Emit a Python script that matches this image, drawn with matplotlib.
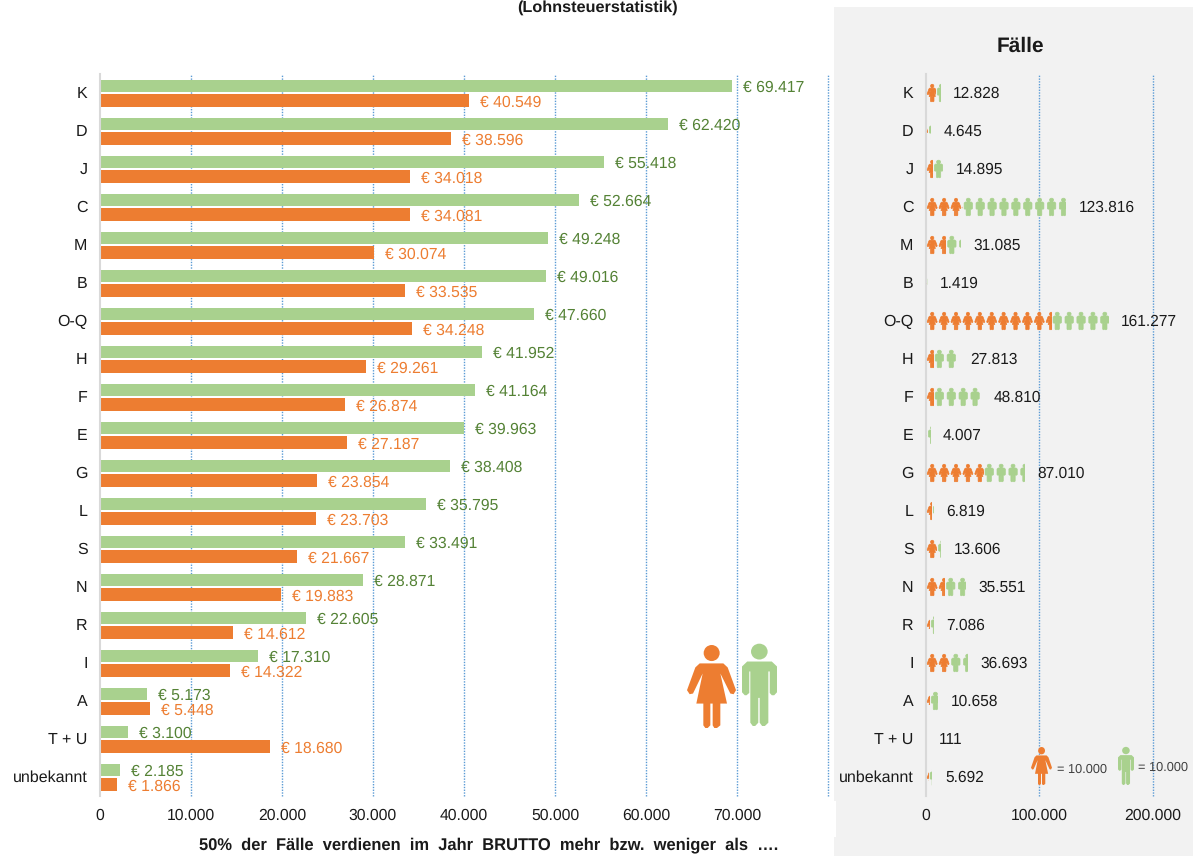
#! /usr/bin/python3

"""gross wages by sector (bars) and number of cases (pictograms)"""

import matplotlib
matplotlib.use("Agg")
import matplotlib.pyplot as plt
from matplotlib.patches import PathPatch, Rectangle
from matplotlib.path import Path
from matplotlib.transforms import Affine2D, ScaledTranslation

plt.rcParams["font.family"] = ["Liberation Sans", "DejaVu Sans"]
plt.rcParams["text.hinting"] = "none"

GREEN = "#A9D18E"
ORANGE = "#ED7D31"
GREEN_TXT = "#548235"
GRID = "#5B9BD5"
TXT = "#1A1A1A"

sectors = ["K", "D", "J", "C", "M", "B", "O-Q", "H", "F", "E", "G", "L", "S",
           "N", "R", "I", "A", "T + U", "unbekannt"]
wage_men = [69417, 62420, 55418, 52664, 49248, 49016, 47660, 41952, 41164,
            39963, 38408, 35795, 33491, 28871, 22605, 17310, 5173, 3100, 2185]
wage_women = [40549, 38596, 34018, 34081, 30074, 33535, 34248, 29261, 26874,
              27187, 23854, 23703, 21667, 19883, 14612, 14322, 5448, 18680, 1866]
cases_total = [12828, 4645, 14895, 123816, 31085, 1419, 161277, 27813, 48810,
               4007, 87010, 6819, 13606, 35551, 7086, 36693, 10658, 111, 5692]
cases_women = [8800, 1800, 6300, 32500, 18000, 700, 111000, 7000, 7000,
               1000, 51000, 5300, 10000, 17000, 3500, 21500, 3500, 50, 2500]
wage_ticks = [0, 10000, 20000, 30000, 40000, 50000, 60000, 70000]
case_ticks = [0, 100000, 200000]

W, H = 1193, 856
PX = 1 / 100 * 72  # one pixel in points at dpi 100


def dotted(v):
    return f"{v:,}".replace(",", ".")


def outline(pts, head, x0, x1, y0, y1):
    """build an icon path in a unit box from pixel points of the icon"""
    def norm(p):
        return ((p[0] - x0) / (x1 - x0), 1 - (p[1] - y0) / (y1 - y0))
    body = Path([norm(p) for p in pts] + [norm(pts[0])], closed=True)
    hx, hy = norm(head[:2])
    sx = head[2] / (x1 - x0)
    sy = head[2] / (y1 - y0)
    circle = Path.unit_circle().transformed(Affine2D().scale(sx, sy).translate(hx, hy))
    return Path.make_compound_path(body, circle)


WOMAN = outline([(88, 100), (159, 100), (172, 112), (197, 180), (190, 192),
                 (180, 190), (150, 130), (170, 220), (150, 220),
                 (150, 285), (140, 293), (132, 293), (127, 285), (127, 220),
                 (120, 220), (120, 285), (112, 293), (105, 293), (99, 285),
                 (99, 220), (78, 220), (97, 130), (68, 190),
                 (58, 192), (50, 180), (75, 112)],
                (124, 69, 24), 50, 197, 45, 293)
MAN = outline([(232, 95), (303, 95), (318, 110), (318, 188), (310, 197),
               (303, 197), (297, 190), (297, 125), (293, 125), (293, 280),
               (283, 290), (275, 290), (268, 280), (268, 205), (264, 205),
               (264, 280), (255, 290), (248, 290), (241, 280), (241, 125),
               (238, 125), (238, 190), (230, 197), (225, 197), (217, 188),
               (217, 110)],
              (267, 65, 24), 217, 318, 42, 290)


def axes_px(left, top, right, bottom):
    return [left / W, 1 - bottom / H, (right - left) / W, (bottom - top) / H]


def style_axes(ax, ticks):
    ax.set_ylim(len(sectors) - 0.5, -0.5)
    ax.patch.set_alpha(0)
    for s in ["top", "right", "bottom"]:
        ax.spines[s].set_visible(False)
    ax.spines["left"].set_color("#D9D9D9")
    ax.spines["left"].set_linewidth(1.5)
    ax.xaxis.grid(True, color=GRID, linestyle=(0, (1, 1)), linewidth=1)
    ax.set_axisbelow(True)
    ax.tick_params(length=0)
    ax.tick_params(axis="x", pad=9, labelsize=11.3, labelcolor=TXT)
    ax.tick_params(axis="y", pad=9, labelsize=11.5, labelcolor=TXT)
    ax.set_yticks(range(len(sectors)), sectors)
    ax.set_xticks(ticks, [dotted(t) for t in ticks])
    for line in ax.get_xgridlines():
        line.set_clip_on(False)
    ax.xaxis.get_major_ticks()[0].gridline.set_visible(False)
    up = ScaledTranslation(0, 1 / 100, fig.dpi_scale_trans)
    for label in ax.get_yticklabels():
        label.set_transform(label.get_transform() + up)


def draw_tiles(ax, start, amount, row, icon, color, width, offset):
    """icons repeated along a bar and cut off where the bar ends"""
    tile = 10500
    height = 0.46
    clip = Rectangle((start, row - 0.5), amount, 1, transform=ax.transData)
    n = int(amount // tile) + 1
    for i in range(n):
        x = start + i * tile + (offset - width / 2) * tile
        tr = Affine2D().scale(width * tile, -height).translate(x, row + height / 2)
        patch = PathPatch(icon, transform=tr + ax.transData, facecolor=color,
                          edgecolor=color, linewidth=0.5, zorder=3)
        ax.add_patch(patch)
        patch.set_clip_path(clip)


fig = plt.figure(figsize=(W / 100, H / 100), dpi=100, facecolor="white")

# grey panel behind the right chart
fig.patches.append(Rectangle((834 / W, 0), (W - 834) / W, 1 - 7 / H, facecolor="#F2F2F2",
                             edgecolor="none", transform=fig.transFigure, zorder=-2))
fig.patches.append(Rectangle((834 / W, 1 - 837 / H), 2 / W, 36 / H, facecolor="white",
                             edgecolor="none", transform=fig.transFigure, zorder=-1))

# left chart: wages
ax1 = fig.add_axes(axes_px(100, 74, 828, 796))
rows = list(range(len(sectors)))
ax1.barh([r - 0.185 for r in rows], wage_men, height=0.335, color=GREEN, zorder=2)
ax1.barh([r + 0.195 for r in rows], wage_women, height=0.335, color=ORANGE, zorder=2)
ax1.set_xlim(0, 80000)
style_axes(ax1, wage_ticks + [80000])
ax1.set_xticklabels([dotted(t) for t in wage_ticks] + [""])
for r in rows:
    ax1.annotate(f"€ {dotted(wage_men[r])}", (wage_men[r], r - 0.185),
                 xytext=(11 * PX, -1.2), textcoords="offset points", va="center",
                 color=GREEN_TXT, fontsize=11.3, zorder=4)
    ax1.annotate(f"€ {dotted(wage_women[r])}", (wage_women[r], r + 0.21),
                 xytext=(11 * PX, -1.2), textcoords="offset points", va="center",
                 color=ORANGE, fontsize=11.3, zorder=4)

# right chart: cases as repeated icons
ax2 = fig.add_axes(axes_px(926, 74, W, 796))
ax2.set_xlim(0, 235600)
style_axes(ax2, case_ticks)
for r in rows:
    women = cases_women[r]
    men = cases_total[r] - women
    draw_tiles(ax2, 0, women, r, WOMAN, ORANGE, 0.84, 0.52)
    draw_tiles(ax2, women, men, r, MAN, GREEN, 0.70, 0.46)
    ax2.annotate(dotted(cases_total[r]), (cases_total[r], r), xytext=(12.5 * PX, -0.5),
                 textcoords="offset points", va="center", color=TXT,
                 fontsize=11.2, zorder=4)

# everything placed by hand goes on a pixel layer
top = fig.add_axes([0, 0, 1, 1], zorder=5)
top.set_xlim(0, W)
top.set_ylim(H, 0)
top.axis("off")


def big_icon(icon, color, x0, x1, y0, y1):
    tr = Affine2D().scale(x1 - x0, y0 - y1).translate(x0, y1)
    top.add_patch(PathPatch(icon, transform=tr + top.transData, facecolor=color,
                            edgecolor="none"))


big_icon(WOMAN, ORANGE, 687, 736, 645, 728)
big_icon(MAN, GREEN, 742, 777, 644, 726)
big_icon(WOMAN, ORANGE, 1031, 1052, 747, 785)
big_icon(MAN, GREEN, 1118, 1134, 747, 785)
top.text(1057, 769.5, "= 10.000", fontsize=9.2, color="#404040", va="center")
top.text(1138, 768, "= 10.000", fontsize=9.2, color="#404040", va="center")

top.text(598, 7.5, "(Lohnsteuerstatistik)", fontsize=11.7, fontweight="bold",
         ha="center", va="center", color=TXT)
top.text(1020, 46, "Fälle", fontsize=15, fontweight="bold", ha="center",
         va="center", color=TXT)
top.text(489, 845, "50%  der  Fälle  verdienen  im  Jahr  BRUTTO  mehr  bzw.  weniger  als  ….",
         fontsize=11.9, fontweight="bold", ha="center", va="center", color=TXT)

fig.savefig("out.png", dpi=100)
